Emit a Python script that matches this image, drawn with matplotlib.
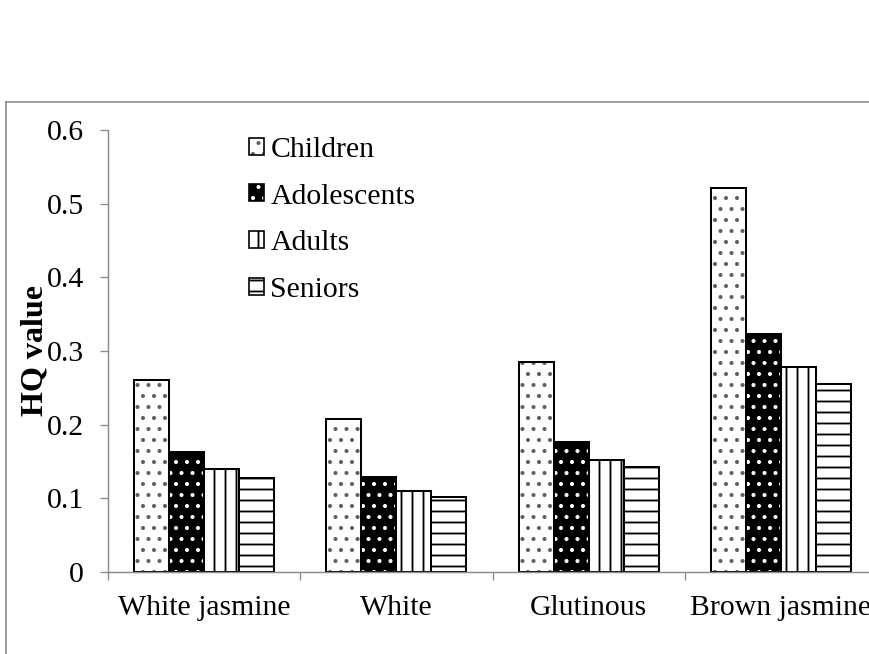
import matplotlib
matplotlib.use('Agg')
import matplotlib.pyplot as plt
from matplotlib.lines import Line2D
from matplotlib.patches import Patch
import numpy as np

# Data
categories = ['White jasmine', 'White', 'Glutinous', 'Brown jasmine']
groups = ['Children', 'Adolescents', 'Adults', 'Seniors']
children = [0.261, 0.208, 0.285, 0.521]
adolescents = [0.163, 0.129, 0.177, 0.323]
adults = [0.140, 0.110, 0.152, 0.278]
seniors = [0.128, 0.102, 0.142, 0.255]
yticks = [0, 0.1, 0.2, 0.3, 0.4, 0.5, 0.6]

# Styles per group: face, hatch, hatch colour
faces = ['white', 'black', 'white', 'white']
hatches = ['.', '.', '|', '-']
hatch_colors = ['#606060', 'white', 'black', 'black']

DPI = 66
W, H = 869, 654
plt.rcParams['font.family'] = ['Liberation Serif', 'DejaVu Serif']
plt.rcParams['hatch.linewidth'] = 2.0
FS = 32.5

fig = plt.figure(figsize=(W / DPI, H / DPI), dpi=DPI)
ax = fig.add_axes([108 / W, (H - 572) / H, 769 / W, 442 / H])

x = np.arange(len(categories))
w = 0.182
series = [children, adolescents, adults, seniors]
handles = []
for i, vals in enumerate(series):
    pos = x + (i - 1.5) * w
    ax.bar(pos, vals, w, color=faces[i], edgecolor=hatch_colors[i],
           hatch=hatches[i], linewidth=0)
    ax.bar(pos, vals, w, fill=False, edgecolor='black', linewidth=2.2)
    handles.append((Patch(facecolor=faces[i], edgecolor=hatch_colors[i],
                          hatch=hatches[i], linewidth=0),
                    Patch(fill=False, edgecolor='black', linewidth=1.8)))

ax.set_xlim(-0.5, len(categories) - 0.5)
ax.set_ylim(0, 0.6)
ax.set_yticks(yticks)
ax.set_yticklabels(['0' if v == 0 else f'{v:.1f}' for v in yticks], fontsize=FS)
ax.set_xticks(x)
ax.set_xticklabels(categories, fontsize=FS)
ax.set_xticks(np.arange(len(categories) + 1) - 0.5, minor=True)
ax.tick_params(axis='x', which='major', length=0, pad=25)
ax.tick_params(axis='x', which='minor', length=9, width=1.5, color='#8c8c8c')
ax.tick_params(axis='y', length=9, width=1.5, color='#8c8c8c', pad=17)

for s in ['top', 'right']:
    ax.spines[s].set_visible(False)
for s in ['left', 'bottom']:
    ax.spines[s].set_color('#8c8c8c')
    ax.spines[s].set_linewidth(1.6)

ax.set_ylabel('HQ value', fontsize=35, fontweight='bold')
ax.yaxis.set_label_coords(-0.076, 0.5)

leg = ax.legend(handles, groups, loc='upper left',
                bbox_to_anchor=(249 / W, 1 - 137 / H),
                bbox_transform=fig.transFigure, frameon=False, fontsize=FS,
                handlelength=0.5, handleheight=0.5, handletextpad=0.22,
                labelspacing=0.69, borderpad=0, borderaxespad=0)

# outer chart-area frame (only top and left edges visible)
fig.add_artist(Line2D([6 / W, 6 / W], [0, 1 - 102 / H], transform=fig.transFigure,
                      color='#8a8a8a', lw=1.8))
fig.add_artist(Line2D([6 / W, 1], [1 - 102 / H, 1 - 102 / H], transform=fig.transFigure,
                      color='#8a8a8a', lw=1.8))

fig.savefig('out.png', dpi=DPI)
